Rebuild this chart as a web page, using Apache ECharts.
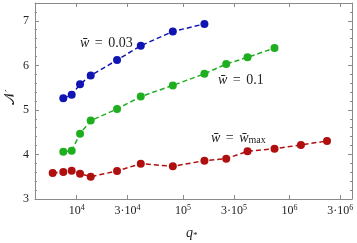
<!DOCTYPE html>
<html><head><meta charset="utf-8">
<script src="https://cdn.jsdelivr.net/npm/echarts@6/dist/echarts.min.js"></script>
<style>html,body{margin:0;padding:0;background:#fff}#c{width:357px;height:243px}</style>
</head><body><div id="c"></div>
<script>
// q_* values
const qBlue  = [7480, 8970, 10750, 13540, 23930, 40000, 80000, 158500];
const nBlue  = [5.26, 5.34, 5.575, 5.77, 6.12, 6.44, 6.76, 6.93];
const qGreen = [7480, 8970, 10750, 13540, 23930, 40000, 80000, 158500, 254000, 402800, 722700];
const nGreen = [4.06, 4.085, 4.465, 4.76, 5.02, 5.30, 5.55, 5.81, 6.03, 6.18, 6.39];
const qRed   = [5945, 7480, 8970, 10750, 13540, 23930, 40000, 80000, 158500, 254000, 402800, 722700, 1280000, 2250000];
const nRed   = [3.584, 3.607, 3.636, 3.569, 3.501, 3.629, 3.793, 3.733, 3.861, 3.906, 4.07, 4.13, 4.213, 4.303];
const xTickValues = [1e4, 3e4, 1e5, 3e5, 1e6, 3e6];
const xTickLabels = [['', '4'], ['3·', '4'], ['', '5'], ['3·', '5'], ['', '6'], ['3·', '6']];
const seriesNames = ['w̄ = 0.03', 'w̄ = 0.1', 'w̄ = w̄max'];

const L = v => Math.log10(v);
const xTicks = xTickValues.map(L);
const pairs = (q, n) => q.map((v, i) => [L(v), n[i]]);
const serif = 'Liberation Serif';
const axisColor = '#8a8a8a';

function fmt(v) {
  let idx = xTicks.findIndex(t => Math.abs(t - v) < 1e-6);
  if (idx < 0) return '';
  const [pre, ex] = xTickLabels[idx];
  return (pre ? '{n|' + pre + '}' : '') + '{n|10}{s|' + ex + '}';
}

const chart = echarts.init(document.getElementById('c'), null, {renderer: 'canvas'});
const colors = ['#0f14b3', '#1fae1f', '#b00f0f'];
const mk = (name, data, c) => ({
  name, type: 'line', data, symbol: 'circle', symbolSize: 8,
  itemStyle: {color: c}, lineStyle: {color: c, width: 1.5, type: [5, 3]}, z: 3, animation: false
});

const xBase = {
  type: 'value', min: 3.608, max: 6.587, splitLine: {show: false},
  axisLine: {lineStyle: {color: axisColor, width: 1}},
  axisTick: {inside: true, length: 4, customValues: xTicks, lineStyle: {color: axisColor}},
};
const yBase = {
  type: 'value', min: 3, max: 7.4, interval: 1, splitLine: {show: false},
  axisLine: {show: true, lineStyle: {color: axisColor, width: 1}},
  axisTick: {inside: true, length: 4, lineStyle: {color: axisColor}},
  minorTick: {show: true, splitNumber: 5, length: 2, lineStyle: {color: axisColor}},
};
const T = 14;
const iStyle = {fontStyle: 'italic', fontFamily: serif, fontSize: T, fill: '#222'};

chart.setOption({
  animation: false,
  grid: {left: 35, right: 5, top: 3, bottom: 44},
  xAxis: [
    Object.assign({}, xBase, {position: 'bottom',
      axisLabel: {customValues: xTicks, formatter: fmt, margin: 5, color: '#222',
        rich: {n: {fontFamily: serif, fontSize: 12, color: '#222'},
               s: {fontFamily: serif, fontSize: 8, color: '#222', verticalAlign: 'top', padding: [0, 0, 6, 0]}}}}),
    Object.assign({}, xBase, {position: 'top', axisLabel: {show: false}})
  ],
  yAxis: [
    Object.assign({}, yBase, {position: 'left',
      axisLabel: {margin: 6, fontFamily: serif, fontSize: 12, color: '#222', showMaxLabel: false}}),
    Object.assign({}, yBase, {position: 'right', axisLabel: {show: false}})
  ],
  series: [mk(seriesNames[0], pairs(qBlue, nBlue), colors[0]),
           mk(seriesNames[1], pairs(qGreen, nGreen), colors[1]),
           mk(seriesNames[2], pairs(qRed, nRed), colors[2])],
  graphic: [
    {type: 'text', left: 80, top: 36, style: {text: '{i|w̄} {o|=} 0.03', font: T + 'px ' + serif, fill: '#222',
      rich: {i: iStyle, o: {fontFamily: serif, fontSize: T, fill: '#222', padding: [0, 2, 0, 2]}}}},
    {type: 'text', left: 218, top: 73, style: {text: '{i|w̄} {o|=} 0.1', font: T + 'px ' + serif, fill: '#222',
      rich: {i: iStyle, o: {fontFamily: serif, fontSize: T, fill: '#222', padding: [0, 2, 0, 2]}}}},
    {type: 'text', left: 211, top: 131, style: {text: '{i|w̄} {o|=} {i|w̄}{m|max}', font: T + 'px ' + serif, fill: '#222',
      rich: {i: iStyle, o: {fontFamily: serif, fontSize: T, fill: '#222', padding: [0, 2, 0, 2]},
             m: {fontFamily: serif, fontSize: 10, fill: '#222', verticalAlign: 'bottom', padding: [5, 0, 0, 0]}}}},
    {type: 'text', left: 3, top: 92, rotation: Math.PI / 2, originX: 8, originY: 8,
      style: {text: '𝒩', font: '14px ' + serif, fill: '#222'}},
    {type: 'text', left: 186, top: 226, style: {text: '{q|q}{s|*}', fill: '#222',
      rich: {q: {fontStyle: 'italic', fontFamily: serif, fontSize: 14, fill: '#222'},
             s: {fontFamily: serif, fontSize: 9, fill: '#222', verticalAlign: 'bottom'}}}}
  ]
});
</script></body></html>
